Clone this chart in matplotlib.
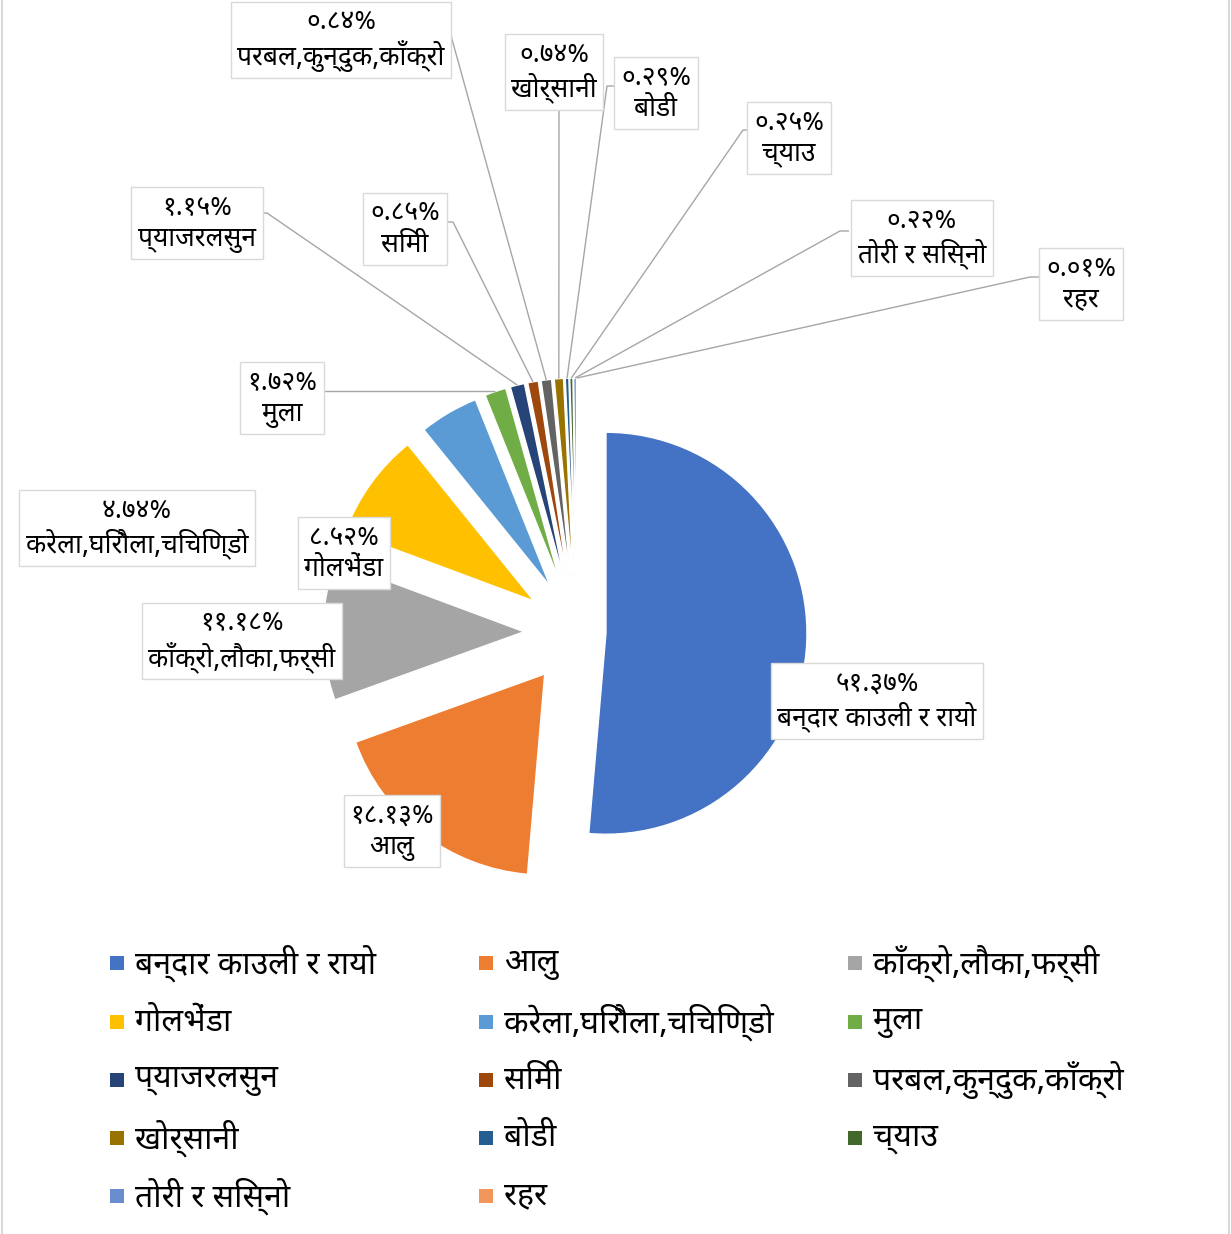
import numpy as np
import matplotlib
matplotlib.use("Agg")
import matplotlib.pyplot as plt
from matplotlib import font_manager
from matplotlib.patches import Rectangle
from matplotlib.lines import Line2D

# data
names = ["बन्दार काउली र रायो", "आलु", "काँक्रो,लौका,फर्सी", "गोलभेंडा",
         "करेला,घिरौला,चिचिण्डो", "मुला", "प्याजरलसुन", "सिमी",
         "परबल,कुन्दुक,काँक्रो", "खोर्सानी", "बोडी", "च्याउ",
         "तोरी र सिस्नो", "रहर"]
shares = [51.37, 18.13, 11.18, 8.52, 4.74, 1.72, 1.15, 0.85,
          0.84, 0.74, 0.29, 0.25, 0.22, 0.01]
colors = ["#4472C4", "#ED7D31", "#A5A5A5", "#FFC000", "#5B9BD5", "#70AD47",
          "#264478", "#9E480E", "#636363", "#997300", "#255E91", "#43682B",
          "#698ED0", "#F1975A"]

W, H = 1231, 1234

# pick an installed Devanagari font
have = {f.name for f in font_manager.fontManager.ttflist}
deva = "Unifont"
for cand in ["Noto Sans Devanagari", "Hind", "Mukta", "Poppins", "FreeSans"]:
    if cand in have:
        deva = cand
        break
plt.rcParams["font.family"] = [deva, "DejaVu Sans"]

deva_digits = str.maketrans("0123456789", "०१२३४५६७८९")


def pct(v):
    return ("%.2f%%" % v).translate(deva_digits)


def py(y):  # pixel row -> data y
    return H - y


fig = plt.figure(figsize=(W / 100, H / 100), dpi=100)
ax = fig.add_axes([0, 0, 1, 1])

R = 201
explode = [29] + [53] * (len(shares) - 1)
wedges, _ = ax.pie(shares, colors=colors, startangle=90, counterclock=False,
                   explode=explode, center=(577, py(632)), radius=R,
                   wedgeprops=dict(edgecolor="white", linewidth=1.0))
ax.set_xlim(0, W)
ax.set_ylim(0, H)
ax.axis("off")

# label box centres (px)
box_xy = [(877, 701), (392, 831), (242, 641), (344, 553), (137, 528),
          (282, 398), (197, 223), (405, 229), (341, 40), (554, 72),
          (656, 93), (789, 138), (922, 238), (1081, 284)]

# leader lines: (start at box, elbow) in px, None for labels on the slice
leaders = [None, None, None, None, None,
           ((321, 392), None), ((259, 213), (267, 213)), ((447, 222), (453, 222)),
           ((442, 32), (450, 32)), ((559, 108), None), ((615, 86), (607, 86)),
           ((749, 130), (743, 130)), ((849, 231), (840, 231)), ((1040, 277), (1030, 277))]

for i, w in enumerate(wedges):
    cx, cy = w.center
    tm = np.deg2rad(0.5 * (w.theta1 + w.theta2))
    ex, ey = cx + w.r * np.cos(tm), cy + w.r * np.sin(tm)
    ld = leaders[i]
    if ld is not None:
        (sx, sy), elbow = ld
        xs = [sx]
        ys = [py(sy)]
        if elbow is not None:
            xs.append(elbow[0])
            ys.append(py(elbow[1]))
        if i == 5:
            ys[0] = ey
        xs.append(ex)
        ys.append(ey)
        ax.plot(xs, ys, color="#A6A6A6", lw=1.0, zorder=1, solid_capstyle="butt")
    bx, by = box_xy[i]
    ax.text(bx, py(by), pct(shares[i]) + "\n" + names[i], ha="center", va="center",
            fontsize=19, color="black", linespacing=1.15, zorder=5,
            bbox=dict(boxstyle="square,pad=0.25", fc="white", ec="#D9D9D9", lw=1.0))

# legend, 3 columns
leg_x = [110, 479, 848]
leg_y = [963, 1022, 1080, 1138, 1196]
for i, name in enumerate(names):
    r, c = divmod(i, 3)
    x0, y0 = leg_x[c], leg_y[r]
    ax.add_patch(Rectangle((x0, py(y0) - 7), 14, 14, color=colors[i], lw=0))
    ax.text(x0 + 25, py(y0), name, ha="left", va="center", fontsize=23, color="black")

# chart border
fig.add_artist(Line2D([2.5 / W, 2.5 / W], [0, 1], color="#D9D9D9", lw=1.5))
fig.add_artist(Line2D([1228.5 / W, 1228.5 / W], [0, 1], color="#D9D9D9", lw=1.5))

fig.savefig("out.png", dpi=100, facecolor="white")
